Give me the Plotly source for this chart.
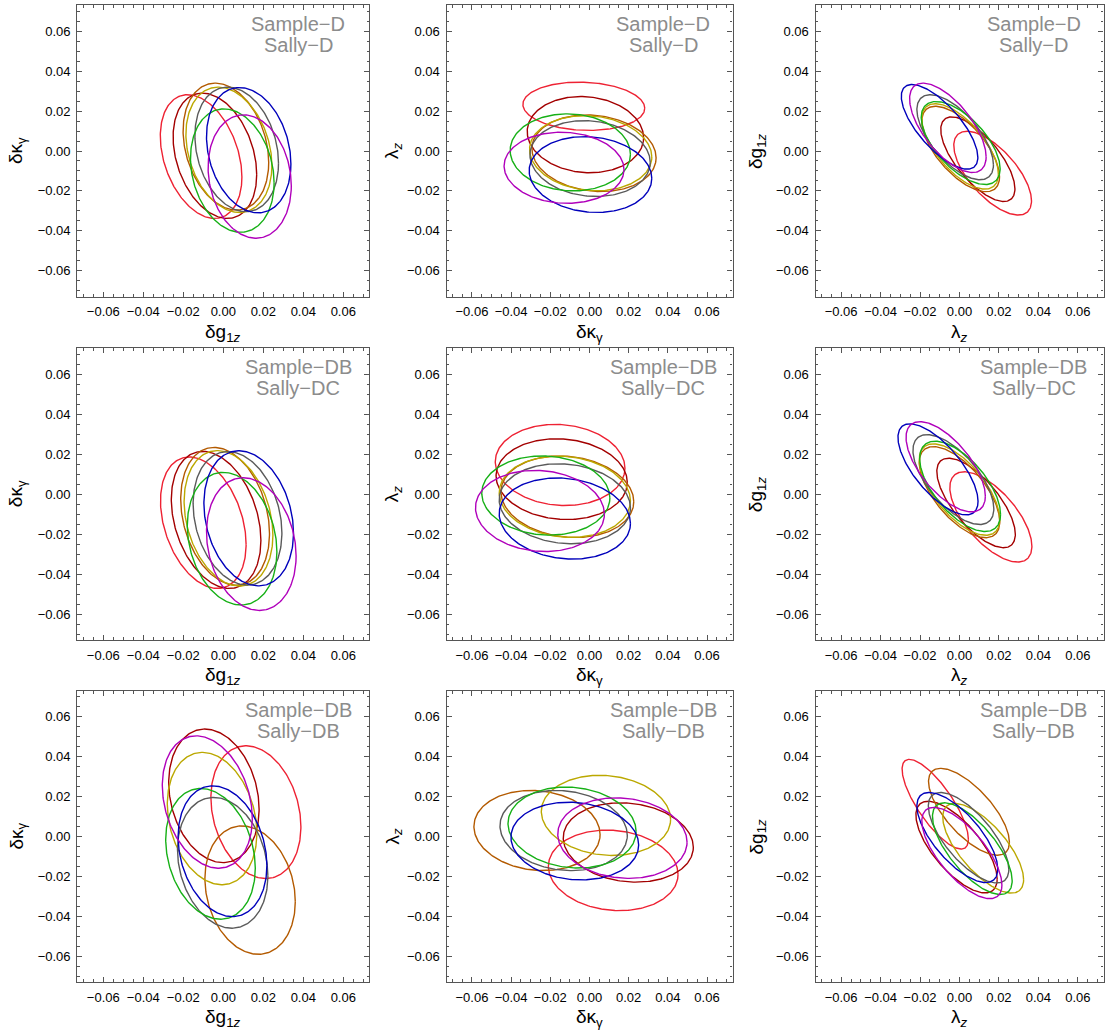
import numpy as np
import plotly.graph_objects as go

# ---------------- data ----------------
COLORS = ["#EE2233", "#A30000", "#B35A00", "#BBA800", "#5A5A5A", "#16B016", "#0000BB", "#B000BB"]
NAMES = ["red", "darkred", "brown", "olive", "gray", "green", "blue", "magenta"]

ROW_TEXT_TOP = ["Sample−D", "Sample−DB", "Sample−DB"]
ROW_TEXT_BOT = ["Sally−D", "Sally−DC", "Sally−DB"]

X_TITLES = ["δg<sub>1<i>z</i></sub>", "δκ<sub>γ</sub>", "λ<sub><i>z</i></sub>"]
Y_TITLES = ["δκ<sub>γ</sub>", "λ<sub><i>z</i></sub>", "δg<sub>1<i>z</i></sub>"]

TICK_VALUES = [-0.06, -0.04, -0.02, 0.0, 0.02, 0.04, 0.06]

# ellipse centres, half extents and correlations; one row per panel (row-major), one entry per colour
CENTER_X = [
    [-0.0111, -0.0042, 0.0013, 0.0028, 0.0067, 0.0045, 0.0127, 0.0132],
    [-0.0029, -0.0021, 0.0023, 0.0006, 0.0003, -0.0098, 0.0005, -0.0130],
    [0.0168, 0.0093, 0.0006, 0.0003, -0.0022, 0.0006, -0.0101, -0.0059],
    [-0.0100, -0.0036, 0.0009, 0.0026, 0.0071, 0.0044, 0.0127, 0.0140],
    [-0.0150, -0.0142, -0.0113, -0.0126, -0.0126, -0.0223, -0.0126, -0.0253],
    [0.0159, 0.0084, 0.0000, 0.0000, -0.0031, 0.0003, -0.0109, -0.0070],
    [0.0163, -0.0047, 0.0134, -0.0056, -0.0003, -0.0064, -0.0004, -0.0080],
    [0.0121, 0.0198, -0.0268, 0.0084, -0.0132, -0.0089, -0.0075, 0.0168],
    [-0.0123, -0.0015, 0.0048, 0.0120, 0.0046, 0.0065, -0.0011, 0.0012],
]
CENTER_Y = [
    [-0.0028, -0.0024, 0.0022, 0.0006, 0.0008, -0.0098, 0.0004, -0.0128],
    [0.0224, 0.0082, -0.0011, -0.0011, -0.0038, -0.0007, -0.0118, -0.0084],
    [-0.0111, -0.0041, 0.0010, 0.0023, 0.0069, 0.0040, 0.0121, 0.0116],
    [-0.0143, -0.0129, -0.0111, -0.0121, -0.0121, -0.0223, -0.0121, -0.0250],
    [0.0146, 0.0075, -0.0013, -0.0013, -0.0048, -0.0007, -0.0122, -0.0084],
    [-0.0114, -0.0044, 0.0010, 0.0023, 0.0073, 0.0039, 0.0124, 0.0137],
    [0.0122, 0.0204, -0.0269, 0.0090, -0.0132, -0.0087, -0.0074, 0.0173],
    [-0.0170, -0.0030, 0.0030, 0.0106, 0.0030, 0.0045, -0.0023, -0.0008],
    [0.0162, -0.0053, 0.0124, -0.0059, -0.0006, -0.0061, -0.0005, -0.0083],
]
HALF_X = [
    [0.0204, 0.0209, 0.0214, 0.0215, 0.0209, 0.0209, 0.0211, 0.0208],
    [0.0311, 0.0297, 0.0317, 0.0312, 0.0307, 0.0307, 0.0313, 0.0306],
    [0.0197, 0.0188, 0.0197, 0.0194, 0.0194, 0.0200, 0.0194, 0.0194],
    [0.0214, 0.0224, 0.0222, 0.0222, 0.0222, 0.0224, 0.0224, 0.0224],
    [0.0331, 0.0335, 0.0339, 0.0335, 0.0335, 0.0327, 0.0335, 0.0329],
    [0.0208, 0.0199, 0.0204, 0.0204, 0.0205, 0.0205, 0.0203, 0.0201],
    [0.0225, 0.0226, 0.0226, 0.0224, 0.0226, 0.0224, 0.0222, 0.0225],
    [0.0331, 0.0332, 0.0322, 0.0330, 0.0325, 0.0327, 0.0326, 0.0330],
    [0.0168, 0.0206, 0.0205, 0.0205, 0.0204, 0.0202, 0.0205, 0.0203],
]
HALF_Y = [
    [0.0310, 0.0314, 0.0318, 0.0314, 0.0312, 0.0309, 0.0314, 0.0309],
    [0.0121, 0.0191, 0.0192, 0.0188, 0.0190, 0.0193, 0.0190, 0.0178],
    [0.0210, 0.0212, 0.0214, 0.0214, 0.0213, 0.0208, 0.0212, 0.0224],
    [0.0329, 0.0343, 0.0345, 0.0339, 0.0334, 0.0332, 0.0338, 0.0332],
    [0.0203, 0.0202, 0.0204, 0.0203, 0.0200, 0.0198, 0.0203, 0.0203],
    [0.0226, 0.0224, 0.0228, 0.0229, 0.0225, 0.0226, 0.0228, 0.0226],
    [0.0333, 0.0335, 0.0322, 0.0332, 0.0328, 0.0328, 0.0328, 0.0332],
    [0.0202, 0.0199, 0.0201, 0.0201, 0.0201, 0.0203, 0.0195, 0.0202],
    [0.0225, 0.0230, 0.0218, 0.0225, 0.0227, 0.0230, 0.0226, 0.0229],
]
RHO = [
    [-0.33, -0.30, -0.25, -0.25, -0.22, -0.20, -0.22, -0.15],
    [-0.08, -0.08, -0.12, -0.10, -0.10, -0.05, -0.10, -0.05],
    [-0.66, -0.70, -0.65, -0.65, -0.65, -0.62, -0.72, -0.65],
    [-0.33, -0.30, -0.25, -0.25, -0.22, -0.20, -0.22, -0.18],
    [-0.08, -0.08, -0.12, -0.10, -0.10, -0.06, -0.12, -0.08],
    [-0.65, -0.70, -0.65, -0.65, -0.65, -0.62, -0.70, -0.65],
    [-0.22, -0.20, -0.18, -0.22, -0.20, -0.22, -0.22, -0.25],
    [-0.10, -0.12, -0.10, -0.10, -0.12, -0.10, -0.10, -0.10],
    [-0.78, -0.70, -0.70, -0.70, -0.70, -0.70, -0.70, -0.70],
]

AXIS_RANGE = [-0.073, 0.073]

# ---------------- layout geometry (pixels) ----------------
W, H = 1107, 1034
COL_PX = [(77.3, 369.3), (446.5, 732.5), (815.5, 1103.5)]
ROW_PX = [(5.3, 296.7), (348.3, 640.0), (691.0, 982.0)]
YTITLE_X_PX = [17, 393, 757]

FRAME = "#555555"
FONT = "Liberation Sans, Arial, sans-serif"

fig = go.Figure()
t = np.linspace(0, 2 * np.pi, 241)

annotations = []
for r in range(3):
    for c in range(3):
        k = r * 3 + c
        idx = "" if k == 0 else str(k + 1)
        xa, ya = "x" + idx, "y" + idx
        for j in range(len(COLORS)):
            cx, cy = CENTER_X[k][j], CENTER_Y[k][j]
            sx, sy, rho = HALF_X[k][j], HALF_Y[k][j], RHO[k][j]
            xs = cx + sx * np.cos(t)
            ys = cy + sy * (rho * np.cos(t) + np.sqrt(1 - rho ** 2) * np.sin(t))
            fig.add_trace(go.Scatter(x=xs, y=ys, mode="lines", name=NAMES[j],
                                     line=dict(color=COLORS[j], width=1.4),
                                     xaxis=xa, yaxis=ya, showlegend=False,
                                     hoverinfo="skip"))
        x0, x1 = COL_PX[c]
        y0, y1 = ROW_PX[r]
        axis_common = dict(
            range=AXIS_RANGE, tickvals=TICK_VALUES, tickformat=".2f",
            ticks="inside", ticklen=5, tickwidth=1, tickcolor=FRAME,
            showline=True, linecolor=FRAME, linewidth=1.2, mirror="ticks",
            showgrid=False, zeroline=False, automargin=False,
            minor=dict(dtick=0.005, tick0=0, ticks="inside", ticklen=2.5,
                       tickwidth=1, tickcolor=FRAME, showgrid=False),
            tickfont=dict(family=FONT, size=13, color="black"),
            ticklabelstandoff=3,
        )
        fig.layout["xaxis" + idx] = dict(axis_common, domain=[x0 / W, x1 / W], anchor=ya)
        fig.layout["yaxis" + idx] = dict(axis_common, domain=[1 - y1 / H, 1 - y0 / H], anchor=xa)

        # labels inside the panel
        annotations.append(dict(text=ROW_TEXT_TOP[r], xref=xa + " domain", yref=ya + " domain",
                                x=0.757, y=0.936, xanchor="center", yanchor="middle",
                                showarrow=False, font=dict(family=FONT, size=20, color="#8C8C8C")))
        annotations.append(dict(text=ROW_TEXT_BOT[r], xref=xa + " domain", yref=ya + " domain",
                                x=0.757, y=0.864, xanchor="center", yanchor="middle",
                                showarrow=False, font=dict(family=FONT, size=20, color="#8C8C8C")))
        # axis titles
        annotations.append(dict(text=X_TITLES[c], xref="paper", yref="paper",
                                x=(x0 + x1) / 2 / W, y=1 - (y1 + 36) / H,
                                xanchor="center", yanchor="middle", showarrow=False,
                                font=dict(family=FONT, size=19, color="black")))
        annotations.append(dict(text=Y_TITLES[c], xref="paper", yref="paper",
                                x=YTITLE_X_PX[c] / W, y=1 - (y0 + y1) / 2 / H,
                                xanchor="center", yanchor="middle", showarrow=False,
                                textangle=-90,
                                font=dict(family=FONT, size=19, color="black")))

fig.update_layout(width=W, height=H, margin=dict(l=0, r=0, t=0, b=0, autoexpand=False),
                  paper_bgcolor="white", plot_bgcolor="white",
                  showlegend=False, annotations=annotations,
                  font=dict(family=FONT))

fig.write_html("out.html", config={"displayModeBar": False},
               post_script="document.body.style.margin='0';document.body.style.padding='0';")
